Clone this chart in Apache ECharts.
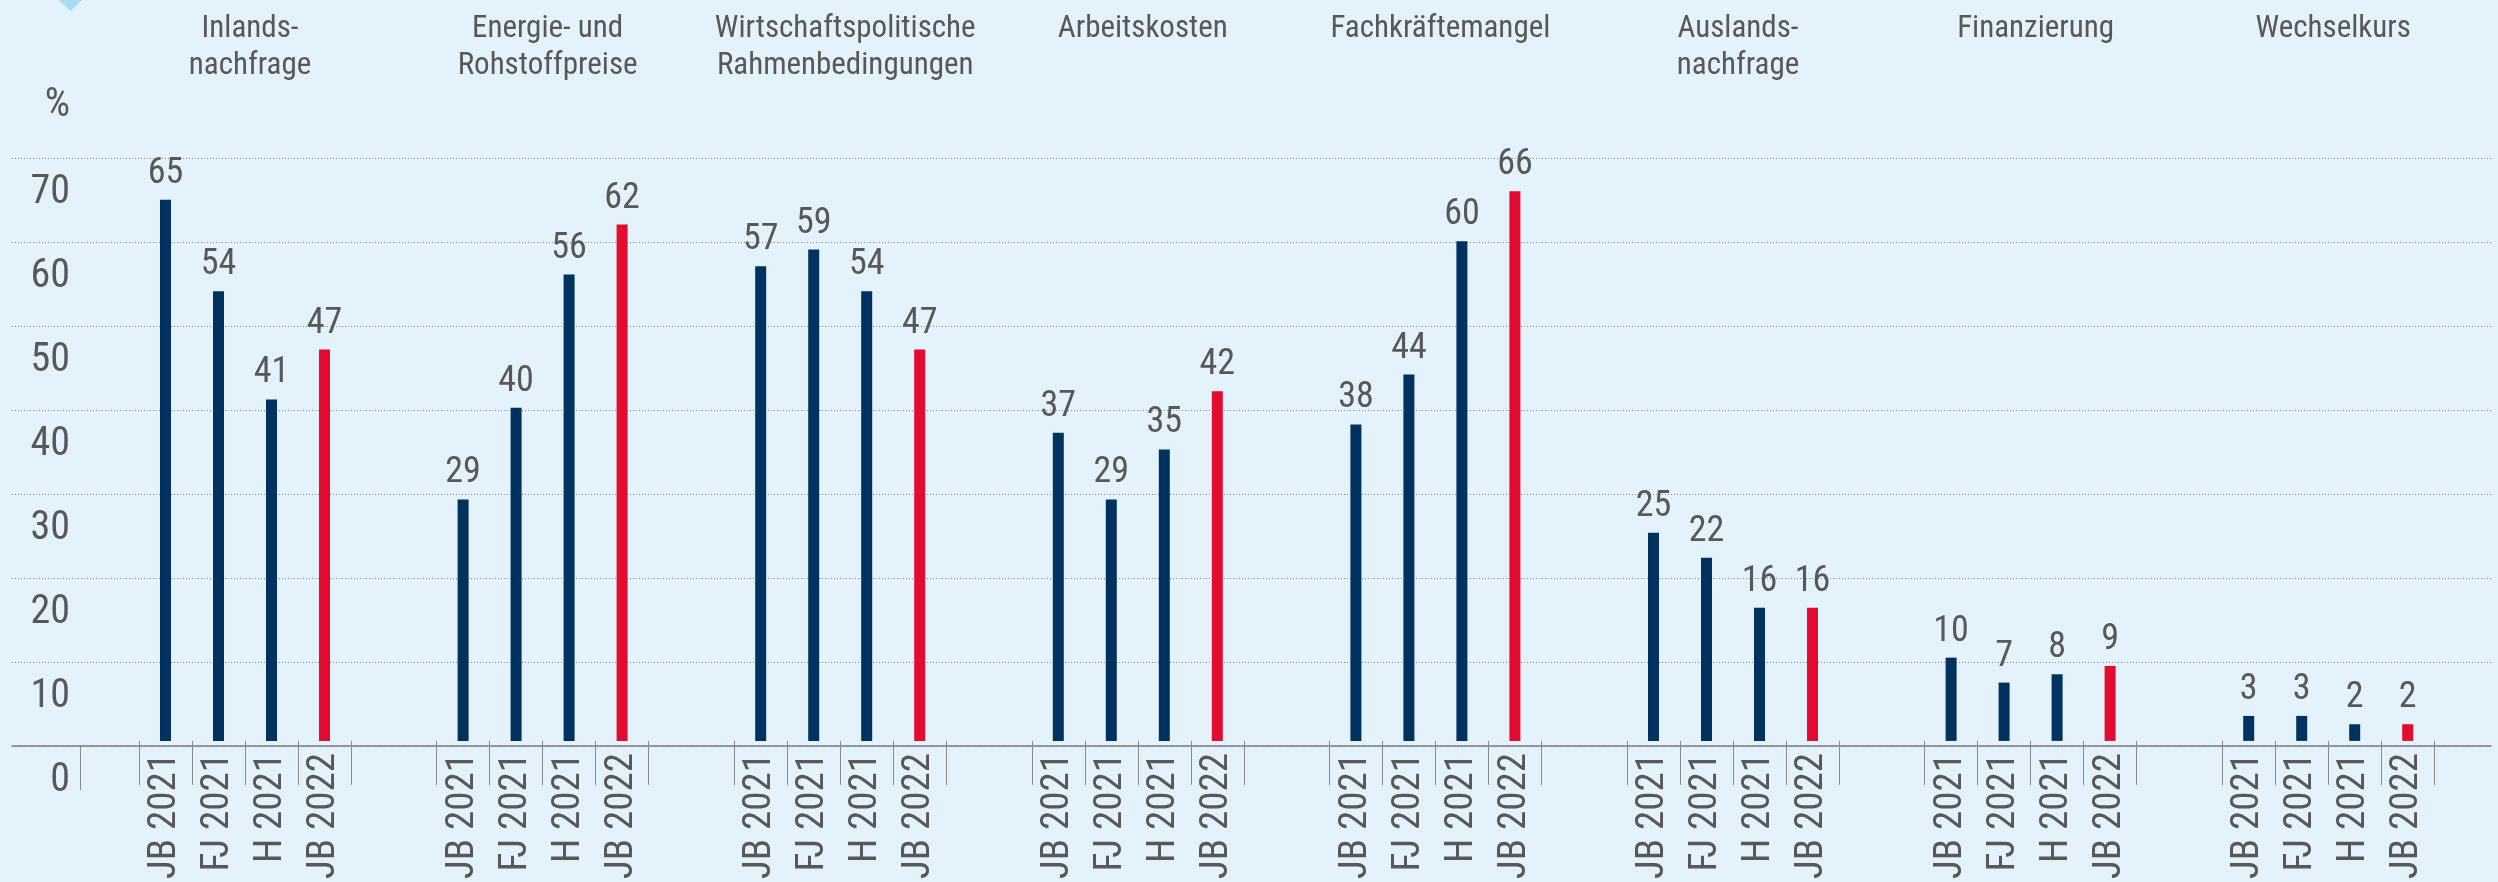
<!DOCTYPE html>
<html>
<head>
<meta charset="utf-8">
<script src="https://cdn.jsdelivr.net/npm/echarts@6/dist/echarts.min.js"></script>
<style>
  html, body { margin: 0; padding: 0; background: #e4f3fb; }
  #chart { width: 2498px; height: 882px; }
</style>
</head>
<body>
<div id="chart"></div>
<script>
var groups = ['Inlands-\nnachfrage', 'Energie- und\nRohstoffpreise', 'Wirtschaftspolitische\nRahmenbedingungen',
    'Arbeitskosten', 'Fachkräftemangel', 'Auslands-\nnachfrage', 'Finanzierung', 'Wechselkurs'];
var periods = ['JB 2021', 'FJ 2021', 'H 2021', 'JB 2022'];
var jb2021 = [65, 29, 57, 37, 38, 25, 10, 3];
var fj2021 = [54, 40, 59, 29, 44, 22, 7, 3];
var h2021 = [41, 56, 54, 35, 60, 16, 8, 2];
var jb2022 = [47, 62, 47, 42, 66, 16, 9, 2];
var yTicks = [0, 10, 20, 30, 40, 50, 60, 70];

var values = [jb2021, fj2021, h2021, jb2022];
var font = "'Liberation Sans Narrow', 'Arial Narrow', 'Roboto Condensed', Roboto, sans-serif";
var txt = '#58585a';
var navy = '#00325f';
var red = '#e30b2f';

var top0 = 158, bottom0 = 136;
var firstLeft = 139, step = 297.6, groupW = 212;

var grid = [{ left: 12, right: 7, top: top0, bottom: bottom0 }];
var xAxis = [{
    gridIndex: 0, type: 'category', data: [''],
    axisLine: { lineStyle: { color: '#7d7d7d', width: 1.5 } },
    axisTick: { show: false }, axisLabel: { show: false }
}];
var yAxis = [{
    gridIndex: 0, type: 'value', min: yTicks[0], max: yTicks[yTicks.length - 1], interval: 10,
    axisLine: { show: false }, axisTick: { show: false },
    axisLabel: {
        inside: true, align: 'right', margin: 58, verticalAlign: 'top', padding: [15, 0, 0, 0],
        fontFamily: font, fontSize: 40, color: txt
    },
    splitLine: { show: true, lineStyle: { color: '#8f8f8f', type: [1, 2], width: 1 } }
}];
var series = [];
var titles = [];

for (var g = 0; g < groups.length; g++) {
    var left = firstLeft + g * step;
    grid.push({ left: left, width: groupW, top: top0, bottom: bottom0 });
    xAxis.push({
        gridIndex: g + 1, type: 'category', data: periods,
        axisLine: { show: false },
        axisTick: { show: true, length: 44, lineStyle: { color: '#8a8a8a', width: 1 } },
        axisLabel: { rotate: 90, margin: 12, fontFamily: font, fontSize: 39, color: txt }
    });
    yAxis.push({
        gridIndex: g + 1, type: 'value', min: 0, max: 70, interval: 10, show: false,
        splitLine: { show: false }
    });
    series.push({
        type: 'bar', xAxisIndex: g + 1, yAxisIndex: g + 1, barWidth: 11,
        data: periods.map(function (p, k) {
            return { value: values[k][g], itemStyle: { color: k === 3 ? red : navy } };
        }),
        label: { show: true, position: 'top', distance: 8, fontFamily: font, fontSize: 36, color: txt },
        silent: true
    });
    titles.push({
        text: groups[g], left: left + groupW / 2, top: 6, textAlign: 'center',
        textStyle: { fontFamily: font, fontSize: 31, fontWeight: 'normal', color: txt, lineHeight: 37 }
    });
}

var chart = echarts.init(document.getElementById('chart'));
chart.setOption({
    backgroundColor: '#e4f3fb',
    animation: false,
    title: titles,
    grid: grid,
    xAxis: xAxis,
    yAxis: yAxis,
    series: series,
    graphic: [
        { type: 'polygon', shape: { points: [[59, 0], [82, 0], [70.5, 11]] }, style: { fill: '#a6dcf2' } },
        { type: 'line', shape: { x1: 80.5, y1: 746, x2: 80.5, y2: 790 }, style: { stroke: '#8a8a8a', lineWidth: 1 } },
        { type: 'text', style: { text: '%', x: 70, y: 86, textAlign: 'right', font: '40px ' + font, fill: txt } }
    ]
});
</script>
</body>
</html>
